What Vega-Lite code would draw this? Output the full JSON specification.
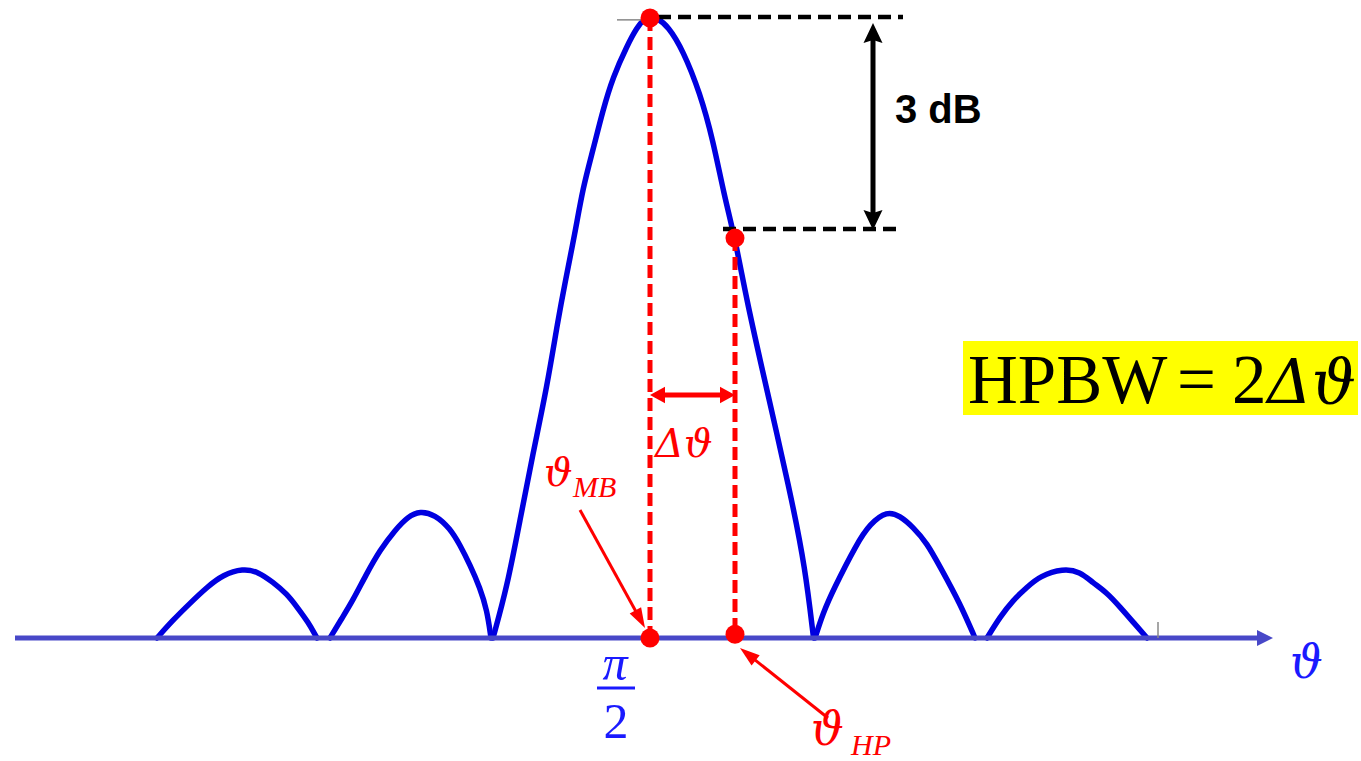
{
  "$schema": "https://vega.github.io/schema/vega-lite/v6.json",
  "width": 1361,
  "height": 761,
  "autosize": {"type": "none"},
  "padding": 0,
  "background": "white",
  "config": {"view": {"stroke": null}},
  "datasets": {
    "pattern": [
      {"lobe": "s-2", "deg": -33.25, "amp": 0},
      {"lobe": "s-2", "deg": -29.25, "amp": 0.029},
      {"lobe": "s-2", "deg": -25, "amp": 0.056},
      {"lobe": "s-2", "deg": -20.75, "amp": 0.082},
      {"lobe": "s-2", "deg": -16.75, "amp": 0.102},
      {"lobe": "s-2", "deg": -11.75, "amp": 0.112},
      {"lobe": "s-2", "deg": -8, "amp": 0.107},
      {"lobe": "s-2", "deg": -4.25, "amp": 0.09},
      {"lobe": "s-2", "deg": -0.75, "amp": 0.071},
      {"lobe": "s-2", "deg": 1.75, "amp": 0.05},
      {"lobe": "s-2", "deg": 4.5, "amp": 0.026},
      {"lobe": "s-2", "deg": 6.75, "amp": 0},
      {"lobe": "s-1", "deg": 10, "amp": 0},
      {"lobe": "s-1", "deg": 13, "amp": 0.032},
      {"lobe": "s-1", "deg": 15.75, "amp": 0.061},
      {"lobe": "s-1", "deg": 19, "amp": 0.102},
      {"lobe": "s-1", "deg": 22.5, "amp": 0.142},
      {"lobe": "s-1", "deg": 26.25, "amp": 0.174},
      {"lobe": "s-1", "deg": 29.5, "amp": 0.196},
      {"lobe": "s-1", "deg": 32.5, "amp": 0.205},
      {"lobe": "s-1", "deg": 36.25, "amp": 0.199},
      {"lobe": "s-1", "deg": 40, "amp": 0.177},
      {"lobe": "s-1", "deg": 42.5, "amp": 0.15},
      {"lobe": "s-1", "deg": 45, "amp": 0.118},
      {"lobe": "s-1", "deg": 47.5, "amp": 0.081},
      {"lobe": "s-1", "deg": 49.25, "amp": 0.045},
      {"lobe": "s-1", "deg": 50.25, "amp": 0},
      {"lobe": "main", "deg": 50.75, "amp": 0},
      {"lobe": "main", "deg": 54.25, "amp": 0.082},
      {"lobe": "main", "deg": 57.5, "amp": 0.19},
      {"lobe": "main", "deg": 60.75, "amp": 0.298},
      {"lobe": "main", "deg": 64.25, "amp": 0.405},
      {"lobe": "main", "deg": 67, "amp": 0.513},
      {"lobe": "main", "deg": 68.75, "amp": 0.573},
      {"lobe": "main", "deg": 71.25, "amp": 0.653},
      {"lobe": "main", "deg": 73.25, "amp": 0.727},
      {"lobe": "main", "deg": 75.75, "amp": 0.787},
      {"lobe": "main", "deg": 78.25, "amp": 0.852},
      {"lobe": "main", "deg": 80.75, "amp": 0.905},
      {"lobe": "main", "deg": 84.25, "amp": 0.955},
      {"lobe": "main", "deg": 86.75, "amp": 0.985},
      {"lobe": "main", "deg": 88.75, "amp": 1.0},
      {"lobe": "main", "deg": 90, "amp": 1.003},
      {"lobe": "main", "deg": 91.75, "amp": 1.0},
      {"lobe": "main", "deg": 94.5, "amp": 0.987},
      {"lobe": "main", "deg": 98.25, "amp": 0.948},
      {"lobe": "main", "deg": 102.5, "amp": 0.879},
      {"lobe": "main", "deg": 105.75, "amp": 0.803},
      {"lobe": "main", "deg": 108.5, "amp": 0.715},
      {"lobe": "main", "deg": 111.25, "amp": 0.645},
      {"lobe": "main", "deg": 114.17, "amp": 0.545},
      {"lobe": "main", "deg": 117.92, "amp": 0.437},
      {"lobe": "main", "deg": 121.67, "amp": 0.331},
      {"lobe": "main", "deg": 125.42, "amp": 0.223},
      {"lobe": "main", "deg": 128.75, "amp": 0.115},
      {"lobe": "main", "deg": 130.88, "amp": 0},
      {"lobe": "s+1", "deg": 131.25, "amp": 0},
      {"lobe": "s+1", "deg": 133.25, "amp": 0.04},
      {"lobe": "s+1", "deg": 135.75, "amp": 0.077},
      {"lobe": "s+1", "deg": 141.75, "amp": 0.153},
      {"lobe": "s+1", "deg": 145, "amp": 0.184},
      {"lobe": "s+1", "deg": 149.25, "amp": 0.205},
      {"lobe": "s+1", "deg": 152.5, "amp": 0.197},
      {"lobe": "s+1", "deg": 155.75, "amp": 0.179},
      {"lobe": "s+1", "deg": 159.25, "amp": 0.153},
      {"lobe": "s+1", "deg": 162.5, "amp": 0.115},
      {"lobe": "s+1", "deg": 167.5, "amp": 0.056},
      {"lobe": "s+1", "deg": 171.25, "amp": 0},
      {"lobe": "s+2", "deg": 174.25, "amp": 0},
      {"lobe": "s+2", "deg": 177.5, "amp": 0.034},
      {"lobe": "s+2", "deg": 180.75, "amp": 0.061},
      {"lobe": "s+2", "deg": 184.25, "amp": 0.082},
      {"lobe": "s+2", "deg": 187.5, "amp": 0.1},
      {"lobe": "s+2", "deg": 193.25, "amp": 0.112},
      {"lobe": "s+2", "deg": 197.5, "amp": 0.107},
      {"lobe": "s+2", "deg": 200.75, "amp": 0.089},
      {"lobe": "s+2", "deg": 204.25, "amp": 0.073},
      {"lobe": "s+2", "deg": 207.5, "amp": 0.05},
      {"lobe": "s+2", "deg": 210.75, "amp": 0.026},
      {"lobe": "s+2", "deg": 214.25, "amp": 0}
    ]
  },
  "encoding": {
    "x": {"field": "deg", "type": "quantitative", "scale": {"domain": [-72.5, 267.75], "nice": false, "zero": false}, "axis": null},
    "y": {"field": "amp", "type": "quantitative", "scale": {"domain": [-0.19839, 1.02903], "nice": false, "zero": false}, "axis": null}
  },
  "layer": [
    {
      "data": {"values": [{"deg": 168.25, "deg2": 267, "amp": 0.479, "amp2": 0.3597}]},
      "mark": {"type": "rect", "color": "#ffff00"},
      "encoding": {"x2": {"field": "deg2"}, "y2": {"field": "amp2"}}
    },
    {
      "data": {"name": "pattern"},
      "mark": {"type": "line", "color": "#0000e0", "strokeWidth": 5.5, "interpolate": "basis", "strokeCap": "round", "strokeJoin": "round"},
      "encoding": {"detail": {"field": "lobe"}}
    },
    {
      "data": {"values": [{"deg": -68.75, "deg2": 243, "amp": 0, "amp2": 0}]},
      "mark": {"type": "rule", "color": "#4848c8", "strokeWidth": 5},
      "encoding": {"x2": {"field": "deg2"}, "y2": {"field": "amp2"}}
    },
    {
      "data": {"values": [{"deg": 243.75, "amp": 0}]},
      "mark": {"type": "point", "shape": "M0,-1L1,1L-1,1Z", "filled": true, "opacity": 1, "color": "#4848c8", "size": 256, "angle": 90}
    },
    {
      "data": {"values": [
        {"deg": 217, "deg2": 217, "amp": 0.026, "amp2": 0},
        {"deg": 81.75, "deg2": 88.75, "amp": 0.997, "amp2": 0.997}
      ]},
      "mark": {"type": "rule", "color": "#888888", "strokeWidth": 1.5},
      "encoding": {"x2": {"field": "deg2"}, "y2": {"field": "amp2"}}
    },
    {
      "data": {"values": [
        {"deg": 90, "deg2": 90, "amp": 1, "amp2": 0},
        {"deg": 111.25, "deg2": 111.25, "amp": 0.645, "amp2": 0.006}
      ]},
      "mark": {"type": "rule", "color": "#ff0000", "strokeWidth": 5, "strokeDash": [13, 6]},
      "encoding": {"x2": {"field": "deg2"}, "y2": {"field": "amp2"}}
    },
    {
      "data": {"values": [
        {"deg": 92, "deg2": 153.25, "amp": 1.0016, "amp2": 1.0016},
        {"deg": 108.25, "deg2": 153.25, "amp": 0.6597, "amp2": 0.6597}
      ]},
      "mark": {"type": "rule", "color": "#000000", "strokeWidth": 4.5, "strokeDash": [13, 7]},
      "encoding": {"x2": {"field": "deg2"}, "y2": {"field": "amp2"}}
    },
    {
      "data": {"values": [{"deg": 145.75, "deg2": 145.75, "amp": 0.9806, "amp2": 0.671}]},
      "mark": {"type": "rule", "color": "#000000", "strokeWidth": 5},
      "encoding": {"x2": {"field": "deg2"}, "y2": {"field": "amp2"}}
    },
    {
      "data": {"values": [{"deg": 145.75, "amp": 0.9758}]},
      "mark": {"type": "point", "shape": "M0,-1L0.95,1L0,0.7L-0.95,1Z", "filled": true, "opacity": 1, "color": "#000000", "size": 400, "angle": 0}
    },
    {
      "data": {"values": [{"deg": 145.75, "amp": 0.6742}]},
      "mark": {"type": "point", "shape": "M0,-1L0.95,1L0,0.7L-0.95,1Z", "filled": true, "opacity": 1, "color": "#000000", "size": 400, "angle": 180}
    },
    {
      "data": {"values": [
        {"deg": 72.5, "deg2": 87.55, "amp": 0.2065, "amp2": 0.0303},
        {"deg": 134.5, "deg2": 114.45, "amp": -0.129, "amp2": -0.0261}
      ]},
      "mark": {"type": "rule", "color": "#ff0000", "strokeWidth": 3},
      "encoding": {"x2": {"field": "deg2"}, "y2": {"field": "amp2"}}
    },
    {
      "data": {"values": [{"deg": 91.25, "deg2": 110, "amp": 0.392, "amp2": 0.392}]},
      "mark": {"type": "rule", "color": "#ff0000", "strokeWidth": 5},
      "encoding": {"x2": {"field": "deg2"}, "y2": {"field": "amp2"}}
    },
    {
      "data": {"values": [{"deg": 87.55, "amp": 0.0303}]},
      "mark": {"type": "point", "shape": "M0,-1L0.65,1L-0.65,1Z", "filled": true, "opacity": 1, "color": "#ff0000", "size": 400, "angle": 151.2}
    },
    {
      "data": {"values": [{"deg": 114.45, "amp": -0.0261}]},
      "mark": {"type": "point", "shape": "M0,-1L0.65,1L-0.65,1Z", "filled": true, "opacity": 1, "color": "#ff0000", "size": 400, "angle": 308.5}
    },
    {
      "data": {"values": [{"deg": 91.875, "amp": 0.392}]},
      "mark": {"type": "point", "shape": "M0,-1L1.1,1L-1.1,1Z", "filled": true, "opacity": 1, "color": "#ff0000", "size": 225, "angle": 270}
    },
    {
      "data": {"values": [{"deg": 109.375, "amp": 0.392}]},
      "mark": {"type": "point", "shape": "M0,-1L1.1,1L-1.1,1Z", "filled": true, "opacity": 1, "color": "#ff0000", "size": 225, "angle": 90}
    },
    {
      "data": {"values": [
        {"point": "main beam", "deg": 90, "amp": 1},
        {"point": "half power", "deg": 111.25, "amp": 0.645},
        {"point": "main beam angle", "deg": 90, "amp": 0},
        {"point": "half power angle", "deg": 111.25, "amp": 0.006}
      ]},
      "mark": {"type": "point", "shape": "circle", "filled": true, "opacity": 1, "color": "#ff0000", "size": 360}
    },
    {
      "data": {"values": [{"deg": 151.25, "amp": 0.8306, "label": "3 dB"}]},
      "mark": {"type": "text", "font": "Liberation Sans", "fontWeight": "bold", "fontSize": 40, "align": "left", "baseline": "alphabetic", "color": "#000000"},
      "encoding": {"text": {"field": "label"}}
    },
    {
      "data": {"values": [
        {"deg": 169.5, "amp": 0.379, "label": "HPBW"},
        {"deg": 221.75, "amp": 0.379, "label": "="},
        {"deg": 235.5, "amp": 0.379, "label": "2"}
      ]},
      "mark": {"type": "text", "font": "Liberation Serif", "fontSize": 69, "align": "left", "baseline": "alphabetic", "color": "#000000"},
      "encoding": {"text": {"field": "label"}}
    },
    {
      "data": {"values": [{"deg": 244.25, "amp": 0.379, "label": "Δϑ"}]},
      "mark": {"type": "text", "font": "DejaVu Serif", "fontStyle": "italic", "fontSize": 62, "align": "left", "baseline": "alphabetic", "color": "#000000"},
      "encoding": {"text": {"field": "label"}}
    },
    {
      "data": {"values": [
        {"deg": 63.5, "amp": 0.2452, "label": "ϑ"},
        {"deg": 91.25, "amp": 0.2919, "label": "Δϑ"}
      ]},
      "mark": {"type": "text", "font": "DejaVu Serif", "fontStyle": "italic", "fontSize": 40, "align": "left", "baseline": "alphabetic", "color": "#ff0000"},
      "encoding": {"text": {"field": "label"}}
    },
    {
      "data": {"values": [
        {"deg": 130.25, "amp": -0.1726, "label": "ϑ"}
      ]},
      "mark": {"type": "text", "font": "DejaVu Serif", "fontStyle": "italic", "fontSize": 46, "align": "left", "baseline": "alphabetic", "color": "#ff0000"},
      "encoding": {"text": {"field": "label"}}
    },
    {
      "data": {"values": [
        {"deg": 70.75, "amp": 0.2274, "label": "MB"},
        {"deg": 140.25, "amp": -0.1887, "label": "HP"}
      ]},
      "mark": {"type": "text", "font": "Liberation Serif", "fontStyle": "italic", "fontSize": 30, "align": "left", "baseline": "alphabetic", "color": "#ff0000"},
      "encoding": {"text": {"field": "label"}}
    },
    {
      "data": {"values": [
        {"deg": 81.25, "amp": -0.0677, "label": "π"}
      ]},
      "mark": {"type": "text", "font": "Liberation Serif, DejaVu Serif", "fontStyle": "italic", "fontSize": 50, "align": "center", "baseline": "alphabetic", "color": "#1a1aff"},
      "encoding": {"text": {"field": "label"}}
    },
    {
      "data": {"values": [
        {"deg": 81.5, "amp": -0.1613, "label": "2"}
      ]},
      "mark": {"type": "text", "font": "Liberation Serif", "fontSize": 50, "align": "center", "baseline": "alphabetic", "color": "#1a1aff"},
      "encoding": {"text": {"field": "label"}}
    },
    {
      "data": {"values": [{"deg": 76.75, "deg2": 86.25, "amp": -0.0806, "amp2": -0.0806}]},
      "mark": {"type": "rule", "color": "#1a1aff", "strokeWidth": 3},
      "encoding": {"x2": {"field": "deg2"}, "y2": {"field": "amp2"}}
    },
    {
      "data": {"values": [{"deg": 250, "amp": -0.0645, "label": "ϑ"}]},
      "mark": {"type": "text", "font": "DejaVu Serif", "fontStyle": "italic", "fontSize": 46, "align": "left", "baseline": "alphabetic", "color": "#1a1aff"},
      "encoding": {"text": {"field": "label"}}
    }
  ]
}
